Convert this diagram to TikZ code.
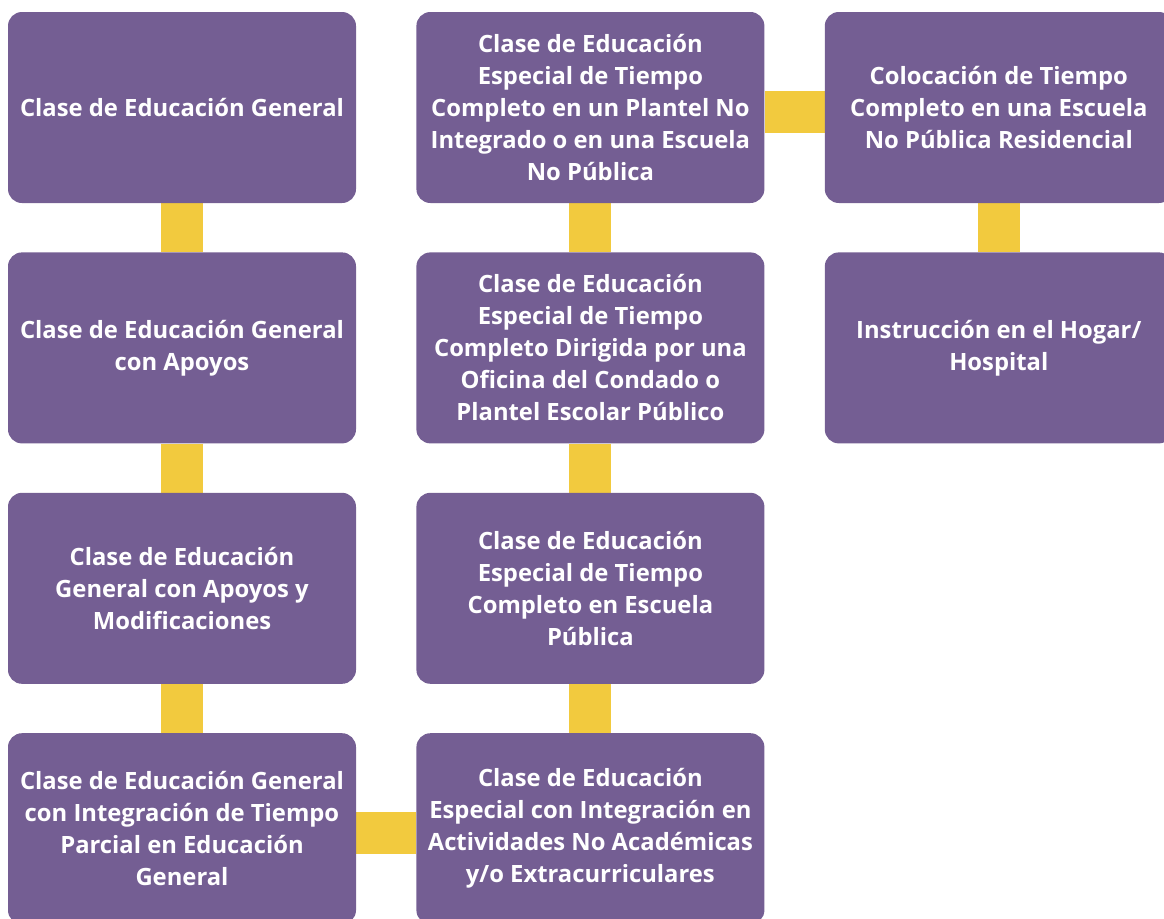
\documentclass[tikz,border=0pt]{standalone}
\usepackage{fontspec}
\setmainfont{Open Sans}
\usetikzlibrary{positioning,backgrounds}
\definecolor{boxpurple}{HTML}{745E93}
\definecolor{linkyellow}{HTML}{F2CA3E}
\tikzset{
  basic/.style = {rectangle, rounded corners=14pt, fill=boxpurple, text=white,
                  font=\bfseries\fontsize{23.8}{32}\selectfont, align=center,
                  minimum width=348pt, minimum height=191pt, inner sep=0pt},
  link/.style  = {draw=linkyellow, line width=42pt}
}

\begin{document}
\begin{tikzpicture}[x=1pt, y=-1pt, node distance=49pt and 60pt]
\useasboundingbox (0,0) rectangle (1164,918);

% first column
\node[basic] (c1) at (182,107.5) {Clase de Educación General};
\node[basic, below=of c1] (c2) {Clase de Educación General\\con Apoyos};
\node[basic, below=of c2] (c3) {Clase de Educación\\General con Apoyos y\\Modificaciones};
\node[basic, below=of c3] (c4) {Clase de Educación General\\con Integración de Tiempo\\Parcial en Educación\\General};

% second column
\node[basic, right=of c1] (d1) {Clase de Educación\\Especial de Tiempo\\Completo en un Plantel No\\Integrado o en una Escuela\\No Pública};
\node[basic, below=of d1] (d2) {Clase de Educación\\Especial de Tiempo\\Completo Dirigida por una\\Oficina del Condado o\\Plantel Escolar Público};
\node[basic, below=of d2] (d3) {Clase de Educación\\Especial de Tiempo\\Completo en Escuela\\Pública};
\node[basic, below=of d3] (d4) {Clase de Educación\\Especial con Integración en\\Actividades No Académicas\\y/o Extracurriculares};

% third column
\node[basic, right=of d1] (e1) {Colocación de Tiempo\\Completo en una Escuela\\No Pública Residencial};
\node[basic, below=of e1] (e2) {Instrucción en el Hogar/\\Hospital};

\begin{scope}[on background layer]
\foreach \col in {c,d} {
  \foreach \i/\j in {1/2,2/3,3/4}
    \draw[link] (\col\i) -- (\col\j);
}
\draw[link] (e1) -- (e2);
\draw[link] ([yshift=-4.5pt]d1.east) -- ([yshift=-4.5pt]e1.west);
\draw[link] ([yshift=-4.5pt]c4.east) -- ([yshift=-4.5pt]d4.west);
\end{scope}
\end{tikzpicture}
\end{document}
